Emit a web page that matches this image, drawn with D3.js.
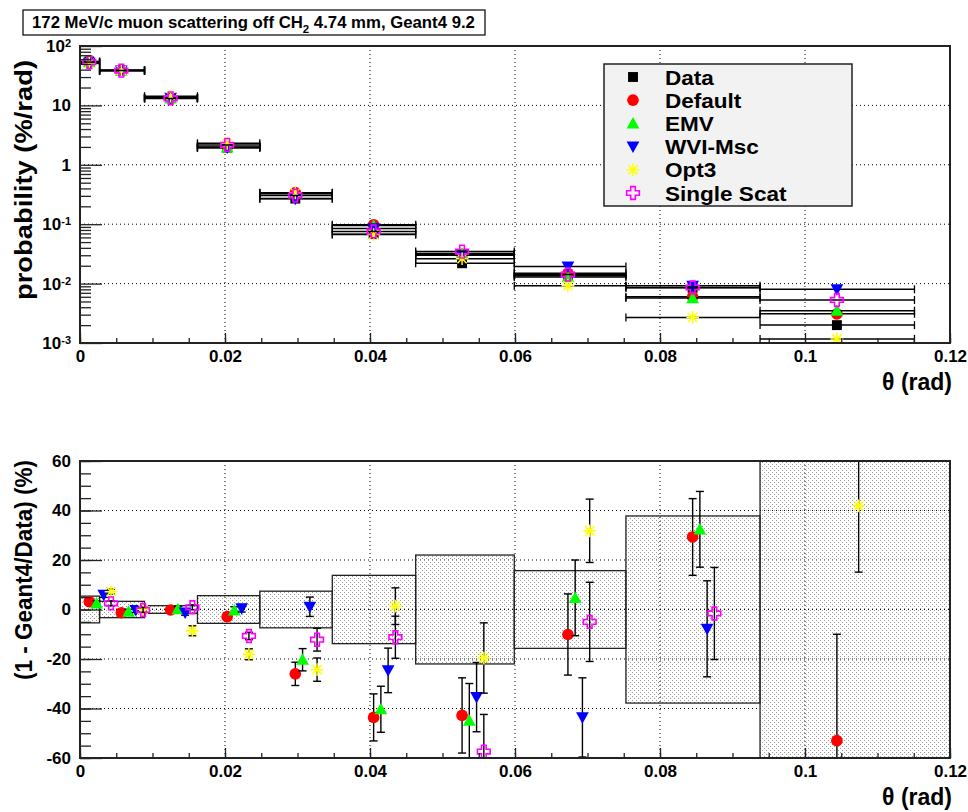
<!DOCTYPE html>
<html><head><meta charset="utf-8">
<script src="https://cdn.jsdelivr.net/npm/d3@7"></script>
<style>
body{margin:0;background:#fff;}
text{font-family:"Liberation Sans",Arial,Helvetica,sans-serif;font-weight:bold;fill:#000;}
</style></head><body>
<svg id="c" width="968" height="812"></svg>
<script>
// ---------------- data ----------------
const titleMain = "172 MeV/c muon scattering off CH";
const titleSub = "2";
const titleRest = " 4.74 mm, Geant4 9.2";
const seriesNames = ["Data", "Default", "EMV", "WVI-Msc", "Opt3", "Single Scat"];

const binEdges = [0, 0.0027, 0.0089, 0.0162, 0.0248, 0.0348, 0.0463, 0.0599, 0.0753, 0.0938, 0.1151];
const boxEdges = [0, 0.0027, 0.0089, 0.0162, 0.0248, 0.0348, 0.0463, 0.0599, 0.0753, 0.0938, 0.12];
const thetaCenter = [0.00128, 0.0057, 0.0125, 0.0203, 0.0297, 0.0405, 0.0527, 0.0673, 0.0845, 0.1044];

// probability (%/rad)
const probData    = [55,   38.5, 13.2, 1.95, 0.27,  0.068,  0.022,  0.0135, 0.0085, 0.0020];
const probDefault = [53,   39,   13.2, 2.0,  0.34,  0.098,  0.031,  0.0149, 0.0060, 0.0031];
const probEMV     = [53.6, 38.8, 13.2, 1.96, 0.325, 0.095,  0.032,  0.0129, 0.0057, 0.0035];
const probWVI     = [51.8, 38.6, 13.4, 1.94, 0.267, 0.085,  0.030,  0.0194, 0.0092, 0.0080];
const probOpt3    = [51,   38.5, 14.3, 2.3,  0.336, 0.067,  0.0263, 0.0092, 0.0027, 0.00117];
const probSS      = [53.6, 38.6, 13.1, 2.16, 0.303, 0.0756, 0.0346, 0.0142, 0.0086, 0.0053];

// data relative error (%) -> shaded boxes
const dataRelErr = [5.4, 3.3, 1.55, 5.6, 7.4, 13.8, 22, 15.7, 37.8, 80];

// (1 - Geant4/Data) (%)
const ratioDefault = [3.2, -1.3, -0.2, -2.9, -26,   -43.6, -42.8, -10.1, 29.3, -53];
const ratioEMV     = [2.5, -0.9,  0.1, -0.4, -20.3, -40.3, -44.9,   4.7, 32.4, -75];
const ratioWVI     = [5.9, -0.2, -1.3,  0.5,   1.1, -24.6, -35.4, -43.6, -7.8, -300];
const ratioOpt3    = [7.2,  0.1, -8.6, -18.1, -24.3,  1.35, -19.6,  31.8, 68,   41.9];
const ratioSS      = [2.5, -0.2,  0.9, -10.7, -12.2, -11.2, -57.4,  -5,  -1.6, -165];

const errDefault = [1, 1, 1, 1.5, 4.7, 9.5, 15.2, 16.4, 15.5, 43];
const errEMV     = [1, 1, 1, 1.5, 4.5, 9.3, 15,   15.3, 15.3, 45];
const errWVI     = [1, 1, 1, 1.5, 3.9, 9,   14,   16,   19.4, 60];
const errOpt3    = [1, 1, 2, 2.2, 4.7, 7.4, 14.2, 12.8, 20,   26.8];
const errSS      = [1, 1, 1, 1.5, 4.6, 8.5, 15,   16,   18.6, 50];

const ratioShift = [0, 0.001, 0.002, 0.003, 0.003]; // theta offsets of the ratio points

const xTicks = [0, 0.02, 0.04, 0.06, 0.08, 0.1, 0.12];
const xTickLabels = ["0", "0.02", "0.04", "0.06", "0.08", "0.1", "0.12"];
const logTicks = [1e-3, 1e-2, 1e-1, 1, 10, 100];
const logTickLabels = ["10^-3", "10^-2", "10^-1", "1", "10", "10^2"];
const ratioTicks = [-60, -40, -20, 0, 20, 40, 60];
const ratioTickLabels = ["-60", "-40", "-20", "0", "20", "40", "60"];

(function () {
// ---------------- styles ----------------
const styles = [
  {type: "square", color: "#000000"},
  {type: "circle", color: "#ff0000"},
  {type: "tup", color: "#00ff00"},
  {type: "tdown", color: "#0000ff"},
  {type: "star", color: "#ffff00"},
  {type: "ocross", color: "#ff00ff"}
];
const MS = 1.1;

// ---------------- layout ----------------
const svg = d3.select("#c");
const L = 80, R = 950, topT = 46, topB = 343, botT = 461, botB = 758;
const x = d3.scaleLinear().domain([0, 0.12]).range([L, R]);
const yLog = d3.scaleLog().domain([1e-3, 1e2]).range([topB, topT]);
const yR = d3.scaleLinear().domain([-60, 60]).range([botB, botT]);

const defs = svg.append("defs");
defs.append("clipPath").attr("id", "clipTop").append("rect")
  .attr("x", L).attr("y", topT).attr("width", R - L).attr("height", topB - topT);
defs.append("clipPath").attr("id", "clipBot").append("rect")
  .attr("x", L).attr("y", botT).attr("width", R - L).attr("height", botB - botT);
const pat = defs.append("pattern").attr("id", "dots").attr("patternUnits", "userSpaceOnUse")
  .attr("width", 4).attr("height", 4);
pat.append("rect").attr("x", 0).attr("y", 0).attr("width", 1).attr("height", 1).attr("fill", "#9c9c9c");
pat.append("rect").attr("x", 2).attr("y", 2).attr("width", 1).attr("height", 1).attr("fill", "#9c9c9c");

function marker(g, st, cx, cy, s) {
  s = s || MS;
  const c = st.color;
  if (st.type === "square") {
    g.append("rect").attr("x", cx - 4.5 * s).attr("y", cy - 4.5 * s)
      .attr("width", 9 * s).attr("height", 9 * s).attr("fill", c);
  } else if (st.type === "circle") {
    g.append("circle").attr("cx", cx).attr("cy", cy).attr("r", 5.3 * s).attr("fill", c);
  } else if (st.type === "tup") {
    const a = 5.8 * s;
    g.append("path").attr("d", `M${cx},${cy - a}L${cx + a},${cy + a * 0.8}L${cx - a},${cy + a * 0.8}Z`).attr("fill", c);
  } else if (st.type === "tdown") {
    const a = 5.8 * s;
    g.append("path").attr("d", `M${cx},${cy + a}L${cx + a},${cy - a * 0.8}L${cx - a},${cy - a * 0.8}Z`).attr("fill", c);
  } else if (st.type === "star") {
    const a = 5.8 * s, d = a * 0.72;
    g.append("path").attr("d",
      `M${cx - a},${cy}L${cx + a},${cy}M${cx},${cy - a}L${cx},${cy + a}M${cx - d},${cy - d}L${cx + d},${cy + d}M${cx - d},${cy + d}L${cx + d},${cy - d}`)
      .attr("stroke", c).attr("stroke-width", 1.5).attr("fill", "none");
  } else if (st.type === "ocross") {
    const a = 5.8 * s, b = 2.1 * s;
    const pts = [[-b,-a],[b,-a],[b,-b],[a,-b],[a,b],[b,b],[b,a],[-b,a],[-b,b],[-a,b],[-a,-b],[-b,-b]];
    g.append("path").attr("d", "M" + pts.map(p => (cx + p[0]) + "," + (cy + p[1])).join("L") + "Z")
      .attr("stroke", c).attr("stroke-width", 1.6).attr("fill", "none");
  }
}

function dotted(g, x1, y1, x2, y2) {
  g.append("line").attr("x1", x1).attr("y1", y1).attr("x2", x2).attr("y2", y2)
    .attr("stroke", "#000").attr("stroke-width", 1).attr("stroke-dasharray", "1,3");
}

// ---------------- title ----------------
const tg = svg.append("g");
tg.append("rect").attr("x", 23).attr("y", 10).attr("width", 462).attr("height", 25)
  .attr("fill", "#fff").attr("stroke", "#000").attr("stroke-width", 1.2);
const tt = tg.append("text").attr("x", 32).attr("y", 28).style("font-size", "16px");
tt.append("tspan").text(titleMain);
const sub = tt.append("tspan").attr("dy", 5).style("font-size", "11px").text(titleSub);
tt.append("tspan").attr("dy", -5).text(titleRest);
{
  const len = tt.node().getComputedTextLength();
  const f = 16 * 443 / len;
  tt.style("font-size", f + "px");
  sub.style("font-size", (f * 0.68) + "px");
}

// ---------------- top panel ----------------
const topG = svg.append("g");
const topGrid = topG.append("g");
[0.02, 0.04, 0.06, 0.08, 0.1].forEach(v => dotted(topGrid, x(v), topT, x(v), topB));
[1e-2, 1e-1, 1, 10].forEach(v => dotted(topGrid, L, yLog(v), R, yLog(v)));

const topSeries = [probData, probDefault, probEMV, probWVI, probOpt3, probSS];
const topPlot = topG.append("g").attr("clip-path", "url(#clipTop)");
topSeries.forEach((vals, si) => {
  const g = topPlot.append("g");
  vals.forEach((v, i) => {
    const yy = yLog(v), x1 = x(binEdges[i]), x2 = x(binEdges[i + 1]);
    g.append("line").attr("x1", x1).attr("x2", x2).attr("y1", yy).attr("y2", yy)
      .attr("stroke", "#000").attr("stroke-width", 1.5);
    [x1, x2].forEach(xx => g.append("line").attr("x1", xx).attr("x2", xx)
      .attr("y1", yy - 4).attr("y2", yy + 4).attr("stroke", "#000").attr("stroke-width", 1.3));
  });
  vals.forEach((v, i) => marker(g, styles[si], x(thetaCenter[i]), yLog(v)));
});

// axes top
const xMinor = d3.range(0, 0.1201, 0.005);
topG.append("g").attr("transform", `translate(0,${topB})`)
  .call(d3.axisBottom(x).tickValues(xMinor).tickSize(-5).tickFormat(""));
topG.append("g").attr("transform", `translate(0,${topB})`)
  .call(d3.axisBottom(x).tickValues(xTicks).tickSize(-10).tickPadding(7).tickFormat((d, i) => xTickLabels[i]));

const logMinor = [];
[-3, -2, -1, 0, 1].forEach(e => { for (let k = 2; k <= 9; k++) logMinor.push(k * Math.pow(10, e)); });
topG.append("g").attr("transform", `translate(${L},0)`)
  .call(d3.axisLeft(yLog).tickValues(logMinor).tickSize(-11).tickFormat(""));
const ayTop = topG.append("g").attr("transform", `translate(${L},0)`)
  .call(d3.axisLeft(yLog).tickValues(logTicks).tickSize(-22).tickPadding(9).tickFormat((d, i) => logTickLabels[i]));

topG.append("rect").attr("x", L).attr("y", topT).attr("width", R - L).attr("height", topB - topT)
  .attr("fill", "none").attr("stroke", "#222").attr("stroke-width", 2);

// legend
const lg = svg.append("g");
lg.append("rect").attr("x", 604).attr("y", 64).attr("width", 248).attr("height", 142)
  .attr("fill", "#f2f2f2").attr("stroke", "#222").attr("stroke-width", 1.5);
seriesNames.forEach((n, i) => {
  const yy = 77 + i * 23.2;
  marker(lg, styles[i], 633, yy, 1.1);
  lg.append("text").attr("transform", `translate(665,${yy + 7.5}) scale(1.1,1)`)
    .style("font-size", "20.5px").text(n);
});

// axis titles top
svg.append("text").attr("x", 952).attr("y", 390).attr("text-anchor", "end")
  .style("font-size", "23px").text("θ (rad)");
svg.append("text").attr("transform", "translate(32,180) rotate(-90)").attr("text-anchor", "middle")
  .attr("textLength", 240).attr("lengthAdjust", "spacingAndGlyphs")
  .style("font-size", "24px").text("probability (%/rad)");

// ---------------- bottom panel ----------------
const botG = svg.append("g");
const botPlot = botG.append("g").attr("clip-path", "url(#clipBot)");
const botGrid = botPlot.append("g");
[0.02, 0.04, 0.06, 0.08, 0.1].forEach(v => dotted(botGrid, x(v), botT, x(v), botB));
[-40, -20, 0, 20, 40].forEach(v => dotted(botGrid, L, yR(v), R, yR(v)));

dataRelErr.forEach((h, i) => {
  botPlot.append("rect").attr("x", x(boxEdges[i])).attr("width", x(boxEdges[i + 1]) - x(boxEdges[i]))
    .attr("y", yR(h)).attr("height", yR(-h) - yR(h))
    .attr("fill", "url(#dots)").attr("stroke", "#222").attr("stroke-width", 1.3);
});

const ratioSeries = [ratioDefault, ratioEMV, ratioWVI, ratioOpt3, ratioSS];
const ratioErr = [errDefault, errEMV, errWVI, errOpt3, errSS];
ratioSeries.forEach((vals, si) => {
  const g = botPlot.append("g");
  vals.forEach((v, i) => {
    if (v < -60 || v > 60) return;
    const xx = x(thetaCenter[i] + ratioShift[si]);
    const e = ratioErr[si][i];
    const y1 = yR(v + e), y2 = yR(v - e);
    g.append("line").attr("x1", xx).attr("x2", xx).attr("y1", y1).attr("y2", y2)
      .attr("stroke", "#000").attr("stroke-width", 1.4);
    [y1, y2].forEach(yy => g.append("line").attr("x1", xx - 4).attr("x2", xx + 4)
      .attr("y1", yy).attr("y2", yy).attr("stroke", "#000").attr("stroke-width", 1.4));
    marker(g, styles[si + 1], xx, yR(v));
  });
});

botG.append("g").attr("transform", `translate(0,${botB})`)
  .call(d3.axisBottom(x).tickValues(xMinor).tickSize(-5).tickFormat(""));
botG.append("g").attr("transform", `translate(0,${botB})`).call(
  d3.axisBottom(x).tickValues(xTicks).tickSize(-10).tickPadding(7).tickFormat((d, i) => xTickLabels[i]));
botG.append("g").attr("transform", `translate(${L},0)`)
  .call(d3.axisLeft(yR).tickValues(d3.range(-60, 60.1, 5)).tickSize(-11).tickFormat(""));
botG.append("g").attr("transform", `translate(${L},0)`)
  .call(d3.axisLeft(yR).tickValues(ratioTicks).tickSize(-22).tickPadding(9).tickFormat((d, i) => ratioTickLabels[i]));

botG.append("rect").attr("x", L).attr("y", botT).attr("width", R - L).attr("height", botB - botT)
  .attr("fill", "none").attr("stroke", "#222").attr("stroke-width", 2);

svg.append("text").attr("x", 952).attr("y", 805).attr("text-anchor", "end")
  .style("font-size", "23px").text("θ (rad)");
svg.append("text").attr("transform", "translate(32,570) rotate(-90)").attr("text-anchor", "middle")
  .attr("textLength", 220).attr("lengthAdjust", "spacingAndGlyphs")
  .style("font-size", "24px").text("(1 - Geant4/Data) (%)");

// axis styling
svg.selectAll(".domain").remove();
svg.selectAll(".tick line").attr("stroke", "#222").attr("stroke-width", 1.3);
svg.selectAll(".tick text").style("font-size", "17px").style("font-family", "'Liberation Sans',Arial,sans-serif")
  .style("font-weight", "bold").attr("fill", "#000");

// superscripts on log tick labels
ayTop.selectAll(".tick text").each(function () {
  const t = d3.select(this);
  const s = t.text();
  if (s.indexOf("^") >= 0) {
    const parts = s.split("^");
    t.text("");
    t.append("tspan").text(parts[0]);
    t.append("tspan").attr("dy", "-0.45em").style("font-size", "11px").text(parts[1]);
  }
});
})();
</script>
</body></html>
